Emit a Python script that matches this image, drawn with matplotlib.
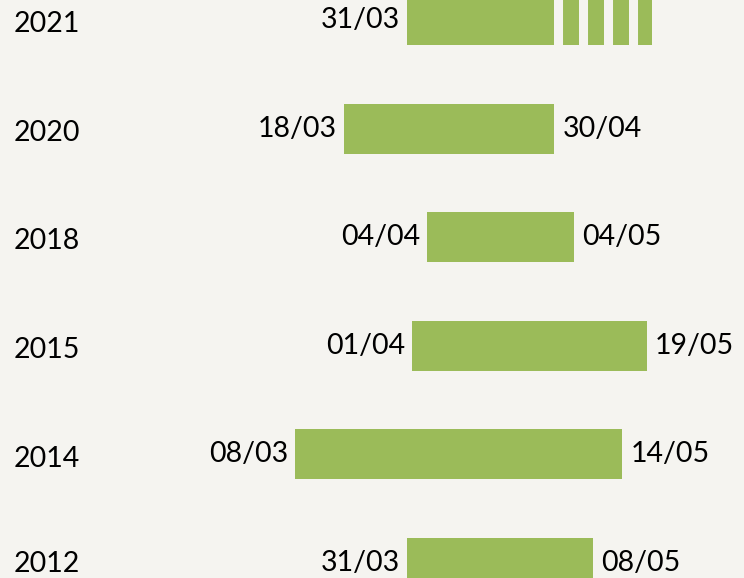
import datetime
import matplotlib
matplotlib.use('Agg')
import matplotlib.pyplot as plt

# Periods (day/month), one row per year, top to bottom
years = ['2021', '2020', '2018', '2015', '2014', '2012']
starts = ['31/03', '18/03', '04/04', '01/04', '08/03', '31/03']
ends = ['30/04', '30/04', '04/05', '19/05', '14/05', '08/05']
show_end = [False, True, True, True, True, True]
# 2021 still running: projected end drawn as dashes
projected_end = '20/05'

bar_color = '#9bbb59'
bg = '#f5f4f0'

plt.rcParams['font.family'] = ['Lato', 'DejaVu Sans']
plt.rcParams['lines.scale_dashes'] = False


def day(s, year):
    d, m = s.split('/')
    return (datetime.date(int(year), int(m), int(d)) - datetime.date(int(year), 3, 1)).days


fig = plt.figure(figsize=(7.44, 5.78), dpi=100, facecolor=bg)
ax = fig.add_axes([0, 0, 1, 1], facecolor=bg)

for i, (yr, s, e) in enumerate(zip(years, starts, ends)):
    x0 = day(s, yr)
    x1 = day(e, yr)
    ax.barh(i, x1 - x0, left=x0, height=0.46, color=bar_color)
    ax.annotate(s, (x0, i), xytext=(-5, 0), textcoords='offset points',
                ha='right', va='center', fontsize=20.5)
    if show_end[i]:
        ax.annotate(e, (x1, i), xytext=(6, 0), textcoords='offset points',
                    ha='left', va='center', fontsize=20.5)
    ax.annotate(yr, (0, i), xycoords=('axes fraction', 'data'),
                xytext=(10, -3 if i < 5 else -1), textcoords='offset points',
                ha='left', va='center', fontsize=20.5)

# dashed continuation for the ongoing year
xe = day(ends[0], years[0])
xp = day(projected_end, years[0])
ax.plot([xe, xp], [0, 0], color=bar_color, lw=36, solid_capstyle='butt',
        dash_capstyle='butt', linestyle=(11.5, (11.5, 6.5)))

ax.set_xlim(-53.4, 98.9)
ax.set_ylim(5.138, -0.184)
ax.axis('off')

plt.savefig('out.png', dpi=100, facecolor=bg)
